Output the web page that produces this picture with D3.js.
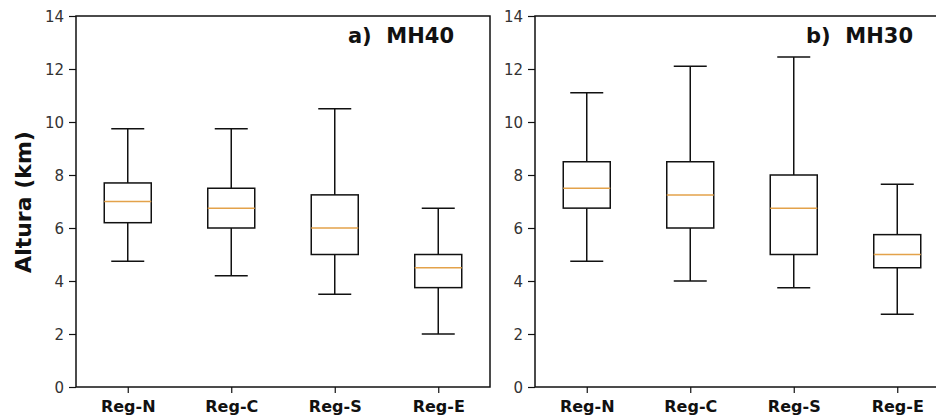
<!DOCTYPE html>
<html>
<head>
<meta charset="utf-8">
<script src="https://cdn.jsdelivr.net/npm/d3@7"></script>
<style>
  body { margin: 0; background: #fff; }
  svg { display: block; }
  svg text { font-family: "DejaVu Sans", sans-serif; }
  .tick text { fill: #333; }
</style>
</head>
<body>
<svg id="chart" width="936" height="416"></svg>
<script>
// categories and box stats
var regions = ["Reg-N", "Reg-C", "Reg-S", "Reg-E"]
var yTicks = [0, 2, 4, 6, 8, 10, 12, 14]
var panelTitles = ["a)  MH40", "b)  MH30"]

// MH40
var mh40Low = [4.75, 4.2, 3.5, 2.0]
var mh40Q1 = [6.2, 6.0, 5.0, 3.75]
var mh40Med = [7.0, 6.75, 6.0, 4.5]
var mh40Q3 = [7.7, 7.5, 7.25, 5.0]
var mh40High = [9.75, 9.75, 10.5, 6.75]

// MH30
var mh30Low = [4.75, 4.0, 3.75, 2.75]
var mh30Q1 = [6.75, 6.0, 5.0, 4.5]
var mh30Med = [7.5, 7.25, 6.75, 5.0]
var mh30Q3 = [8.5, 8.5, 8.0, 5.75]
var mh30High = [11.1, 12.1, 12.45, 7.65]

function buildBoxes(low, q1, med, q3, high) {
    return regions.map(function(r, i) {
        return { name: r, low: low[i], q1: q1[i], med: med[i], q3: q3[i], high: high[i] }
    })
}

var panels = [
    { title: panelTitles[0], left: 76, boxes: buildBoxes(mh40Low, mh40Q1, mh40Med, mh40Q3, mh40High) },
    { title: panelTitles[1], left: 535, boxes: buildBoxes(mh30Low, mh30Q1, mh30Med, mh30Q3, mh30High) }
]

var marginTop = 16,
    width = 414,
    height = 371,
    boxWidth = 47,
    capWidth = 33,
    medianColor = "#e3a24a"

var svg = d3.select("#chart")

var x = d3.scalePoint()
    .domain(regions)
    .range([0, width])
    .padding(0.5)

var y = d3.scaleLinear()
    .domain([0, 14])
    .range([height, 0])

panels.forEach(function(p) {
    var g = svg.append("g")
        .attr("transform", "translate(" + p.left + "," + marginTop + ")")

    // frame
    g.append("rect")
        .attr("width", width)
        .attr("height", height)
        .style("fill", "none")
        .style("stroke", "#111")
        .style("stroke-width", 1.5)

    var yAxis = g.append("g")
        .call(d3.axisLeft(y).tickValues(yTicks).tickSize(7).tickPadding(5).tickSizeOuter(0))
    yAxis.select(".domain").remove()
    yAxis.selectAll(".tick line").style("stroke", "#111").style("stroke-width", 1.2)
    yAxis.selectAll(".tick text")
        .attr("dy", "0.36em")
        .style("font-size", "15px")

    var xAxis = g.append("g")
        .attr("transform", "translate(0," + height + ")")
        .call(d3.axisBottom(x).tickSize(6).tickPadding(8).tickSizeOuter(0))
    xAxis.select(".domain").remove()
    xAxis.selectAll(".tick line").style("stroke", "#111").style("stroke-width", 1.2)
    xAxis.selectAll(".tick text")
        .style("font-size", "16px")
        .style("font-weight", "bold")
        .style("fill", "#111")

    var box = g.selectAll(".box")
        .data(p.boxes)
        .enter().append("g")
        .attr("class", "box")
        .attr("transform", function(d) { return "translate(" + x(d.name) + ",0)" })

    // whiskers
    box.append("line")
        .attr("y1", function(d) { return y(d.high) })
        .attr("y2", function(d) { return y(d.q3) })
    box.append("line")
        .attr("y1", function(d) { return y(d.q1) })
        .attr("y2", function(d) { return y(d.low) })
    box.append("line")
        .attr("x1", -capWidth / 2).attr("x2", capWidth / 2)
        .attr("y1", function(d) { return y(d.high) })
        .attr("y2", function(d) { return y(d.high) })
    box.append("line")
        .attr("x1", -capWidth / 2).attr("x2", capWidth / 2)
        .attr("y1", function(d) { return y(d.low) })
        .attr("y2", function(d) { return y(d.low) })

    box.selectAll("line")
        .style("stroke", "#111")
        .style("stroke-width", 1.5)

    box.append("rect")
        .attr("x", -boxWidth / 2)
        .attr("width", boxWidth)
        .attr("y", function(d) { return y(d.q3) })
        .attr("height", function(d) { return y(d.q1) - y(d.q3) })
        .style("fill", "none")
        .style("stroke", "#111")
        .style("stroke-width", 1.5)

    box.append("line")
        .attr("class", "median")
        .attr("x1", -boxWidth / 2).attr("x2", boxWidth / 2)
        .attr("y1", function(d) { return y(d.med) })
        .attr("y2", function(d) { return y(d.med) })
        .style("stroke", medianColor)
        .style("stroke-width", 1.5)

    g.append("text")
        .attr("x", width - 36)
        .attr("y", 27)
        .attr("text-anchor", "end")
        .style("font-size", "21px")
        .style("font-weight", "bold")
        .style("white-space", "pre")
        .style("fill", "#111")
        .text(p.title)
})

svg.append("text")
    .attr("transform", "translate(31,202) rotate(-90)")
    .attr("text-anchor", "middle")
    .style("font-size", "22px")
    .style("font-weight", "bold")
    .style("fill", "#111")
    .text("Altura (km)")
</script>
</body>
</html>
